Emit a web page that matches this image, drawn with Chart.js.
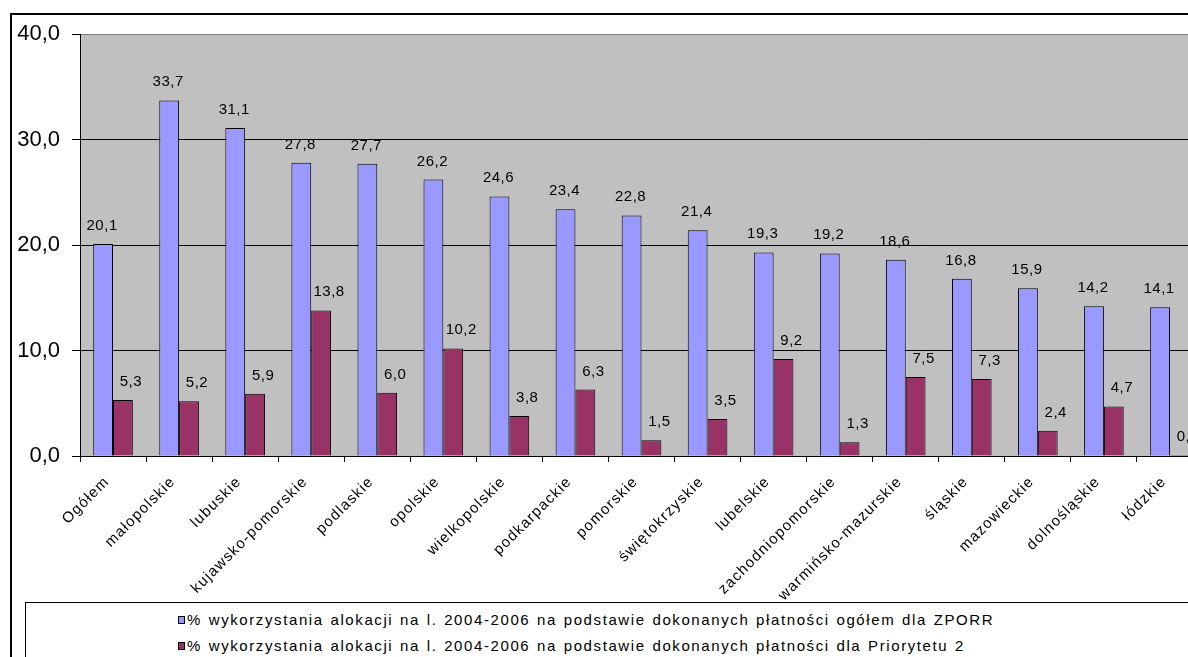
<!DOCTYPE html>
<html>
<head>
<meta charset="utf-8">
<script src="https://cdn.jsdelivr.net/npm/chart.js@4.4.1/dist/chart.umd.min.js"></script>
<style>
  html, body { margin: 0; padding: 0; background: #fff; overflow: hidden; width: 1188px; height: 657px; }
  #frame { position: absolute; left: 10px; top: 13px; width: 1300px; height: 800px; border-left: 2px solid #000; border-top: 2px solid #000; }
  #wrap { position: absolute; left: 0; top: 0; width: 1215px; height: 657px; }
  #legend { position: absolute; left: 25px; top: 602px; width: 1300px; height: 100px; border: 1px solid #000; background: #fff;
            font-family: "Liberation Sans", Arial, sans-serif; font-size: 15px; letter-spacing: 1.6px; word-spacing: 1px; color: #000; }
  .item { position: absolute; left: 152px; white-space: nowrap; line-height: 17px; }
  .box { display: inline-block; width: 5px; height: 6px; border: 1px solid #000; margin-right: 2px; vertical-align: 1px; }
</style>
</head>
<body>
<div id="frame"></div>
<div id="wrap"><canvas id="chart" width="1215" height="657"></canvas></div>
<div id="legend"></div>
<script>
// regions (x axis)
var regions = ["Ogółem","małopolskie","lubuskie","kujawsko-pomorskie","podlaskie","opolskie","wielkopolskie",
  "podkarpackie","pomorskie","świętokrzyskie","lubelskie","zachodniopomorskie","warmińsko-mazurskie",
  "śląskie","mazowieckie","dolnośląskie","łódzkie"];
// % used, all payments ZPORR
var ogolem = [20.1,33.7,31.1,27.8,27.7,26.2,24.6,23.4,22.8,21.4,19.3,19.2,18.6,16.8,15.9,14.2,14.1];
// % used, Priority 2
var priorytet2 = [5.3,5.2,5.9,13.8,6.0,10.2,3.8,6.3,1.5,3.5,9.2,1.3,7.5,7.3,2.4,4.7,0.1];
var seriesNames = [
  "% wykorzystania alokacji na l. 2004-2006 na podstawie dokonanych płatności ogółem dla ZPORR",
  "% wykorzystania alokacji na l. 2004-2006 na podstawie dokonanych płatności dla Priorytetu 2"
];
var yTicks = [0, 10, 20, 30, 40];

var FONT = '"Liberation Sans", Arial, sans-serif';

function fmt(v){
  return v.toFixed(1).replace('.', ',');
}

// grey plot area + wider letters like the original
var plotBg = {
  id: 'plotBg',
  beforeDraw(chart){
    var a = chart.chartArea, ctx = chart.ctx;
    ctx.save();
    ctx.fillStyle = '#C0C0C0';
    ctx.fillRect(a.left, a.top, a.right - a.left, a.bottom - a.top);
    ctx.restore();
    ctx.letterSpacing = '1.2px';
  }
};

// numbers above the bars (excel puts the second series' labels a bit to the right)
var labelShift = [-1, 8];
var valueLabels = {
  id: 'valueLabels',
  afterDatasetsDraw(chart){
    var ctx = chart.ctx;
    ctx.save();
    ctx.font = '15px ' + FONT;
    ctx.letterSpacing = '0.5px';
    ctx.fillStyle = '#000';
    ctx.textAlign = 'center';
    ctx.textBaseline = 'alphabetic';
    chart.data.datasets.forEach(function(ds, i){
      chart.getDatasetMeta(i).data.forEach(function(bar, j){
        ctx.fillText(fmt(ds.data[j]), bar.x + labelShift[i], bar.y - 14);
      });
    });
    ctx.restore();
  }
};

var ctx = document.getElementById("chart");
var myChart = new Chart(ctx, {
  type: 'bar',
  data: {
    labels: regions,
    datasets: [
      {
        label: seriesNames[0],
        data: ogolem,
        backgroundColor: '#9999FF',
        borderColor: '#000',
        borderWidth: 1
      },
      {
        label: seriesNames[1],
        data: priorytet2,
        backgroundColor: '#993366',
        borderColor: '#000',
        borderWidth: 1
      }
    ]
  },
  options: {
    responsive: false,
    animation: false,
    devicePixelRatio: 1,
    layout: { padding: { left: 10, top: 34, right: 12, bottom: 0 } },
    datasets: { bar: { categoryPercentage: 0.6, barPercentage: 1.0 } },
    plugins: { legend: { display: false }, tooltip: { enabled: false } },
    scales: {
      x: {
        afterFit: function(s){ s.height = 201; },
        grid: { drawOnChartArea: false, drawTicks: true, tickLength: 6, color: '#000' },
        border: { color: '#000', width: 1 },
        ticks: {
          autoSkip: false, maxRotation: 45, minRotation: 45, padding: 11, labelOffset: -6,
          color: '#000', font: { family: FONT, size: 15 }
        }
      },
      y: {
        min: yTicks[0],
        max: yTicks[yTicks.length - 1],
        afterFit: function(s){ s.width = 70; },
        afterBuildTicks: function(s){ s.ticks = yTicks.map(function(v){ return { value: v }; }); },
        grid: {
          color: function(c){ return c.tick && c.tick.value === 40 ? '#808080' : '#000'; },
          tickColor: '#000', tickLength: 8, lineWidth: 1
        },
        border: { color: '#000', width: 1 },
        ticks: {
          padding: 12, color: '#000', font: { family: FONT, size: 22 },
          callback: function(v){ return fmt(v); }
        }
      }
    }
  },
  plugins: [plotBg, valueLabels]
});

// y labels without the extra letter spacing
var yScale = myChart.scales.y;
var drawY = yScale.drawLabels;
yScale.drawLabels = function(area){
  this.ctx.letterSpacing = '0px';
  drawY.call(this, area);
  this.ctx.letterSpacing = '1.2px';
};
myChart.draw();

// legend in a box under the chart, like the original
var legend = document.getElementById('legend');
var legendColors = ['#9999FF', '#993366'];
seriesNames.forEach(function(name, i){
  var item = document.createElement('div');
  item.className = 'item';
  item.style.top = (8 + i * 26) + 'px';
  item.innerHTML = '<span class="box" style="background:' + legendColors[i] + '"></span>';
  item.appendChild(document.createTextNode(name));
  legend.appendChild(item);
});
</script>
</body>
</html>
